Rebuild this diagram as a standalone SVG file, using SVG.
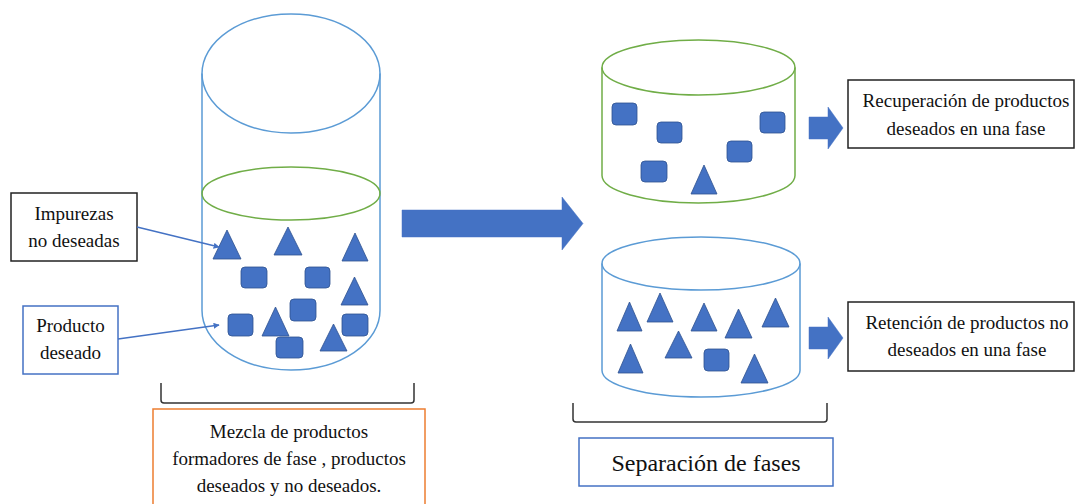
<svg xmlns="http://www.w3.org/2000/svg" width="1076" height="504" viewBox="0 0 1076 504">
<style>
.t{font-family:"Liberation Serif","Times New Roman",serif;font-size:19px;fill:#111;text-anchor:middle}
.sh{fill:#4472C4;stroke:#2F528F;stroke-width:0.8}
.cylB{fill:none;stroke:#5B9BD5;stroke-width:1.5}
.cylG{fill:none;stroke:#70AD47;stroke-width:1.5}
.br{fill:none;stroke:#333;stroke-width:1.5}
.big{fill:#4472C4;stroke:#4472C4;stroke-width:0.5}
.ln{stroke:#4472C4;stroke-width:1.5;fill:none}
</style>
<defs>
<marker id="ah" viewBox="0 0 10 10" refX="9" refY="5" markerWidth="6" markerHeight="6" orient="auto" markerUnits="userSpaceOnUse">
<path d="M0,0 L10,5 L0,10 z" fill="#4472C4"/>
</marker>
</defs>
<rect width="1076" height="504" fill="#fff"/>

<g id="mix-cylinder">
<ellipse class="cylB" cx="291" cy="73.5" rx="89" ry="59.5"/>
<path class="cylB" d="M202,73.5 L202,310.5 A89,59.5 0 0 0 380,310.5 L380,73.5"/>
<ellipse class="cylG" cx="291" cy="193.5" rx="89" ry="26.5"/>
<polygon class="sh" points="213,259 241,259 227,230"/>
<polygon class="sh" points="274,255 302,255 288,227"/>
<polygon class="sh" points="342,261 368,261 355,233"/>
<polygon class="sh" points="341,305 368,305 354.5,277"/>
<polygon class="sh" points="262,336 289,336 275.5,307"/>
<polygon class="sh" points="320,351 347,351 333.5,324"/>
<rect class="sh" x="241" y="267" width="26" height="21" rx="4"/>
<rect class="sh" x="305" y="267" width="25" height="21" rx="4"/>
<rect class="sh" x="290" y="299" width="26" height="22" rx="4"/>
<rect class="sh" x="228" y="314" width="25" height="22" rx="4"/>
<rect class="sh" x="342" y="314" width="26" height="22" rx="4"/>
<rect class="sh" x="276" y="337" width="27" height="21" rx="4"/>
</g>

<g id="impurezas">
<rect x="11" y="193" width="126" height="68" fill="#fff" stroke="#222" stroke-width="1.5"/>
<text class="t" x="74" y="220">Impurezas</text>
<text class="t" x="74" y="247">no deseadas</text>
</g>

<g id="producto">
<rect x="23" y="306" width="95" height="68" fill="#fff" stroke="#4472C4" stroke-width="1.5"/>
<text class="t" x="70.5" y="332">Producto</text>
<text class="t" x="70.5" y="359">deseado</text>
</g>

<g id="bracket-left">
<path class="br" d="M161,383 L161,400 Q161,403 164,403 L411,403 Q414,403 414,400 L414,383"/>
</g>

<g id="mezcla">
<rect x="153" y="409" width="272" height="100" fill="#fff" stroke="#ED7D31" stroke-width="1.5"/>
<text class="t" x="289" y="438">Mezcla de productos</text>
<text class="t" x="289" y="465">formadores de fase , productos</text>
<text class="t" x="289" y="492">deseados y no deseados.</text>
</g>

<g id="upper-phase">
<ellipse class="cylG" cx="698.5" cy="67.5" rx="96.5" ry="27.5"/>
<path class="cylG" d="M602,67.5 L602,175.5 A96.5,27.5 0 0 0 795,175.5 L795,67.5"/>
<rect class="sh" x="612" y="103" width="25" height="22" rx="4"/>
<rect class="sh" x="657" y="122" width="25" height="21" rx="4"/>
<rect class="sh" x="641" y="161" width="26" height="21" rx="4"/>
<rect class="sh" x="727" y="141" width="25" height="21" rx="4"/>
<rect class="sh" x="760" y="112" width="25" height="21" rx="4"/>
<polygon class="sh" points="691,194 717,194 704,165"/>
</g>

<g id="lower-phase">
<ellipse class="cylB" cx="701" cy="263.5" rx="99" ry="26.5"/>
<path class="cylB" d="M602,263.5 L602,370.5 A99,26.5 0 0 0 800,370.5 L800,263.5"/>
<polygon class="sh" points="617,331 642,331 629.5,302"/>
<polygon class="sh" points="647,322 673,322 660,293"/>
<polygon class="sh" points="691,331 717,331 704,303"/>
<polygon class="sh" points="725,338 752,338 738.5,309"/>
<polygon class="sh" points="762,327 789,327 775.5,298"/>
<polygon class="sh" points="618,373 643,373 630.5,344"/>
<polygon class="sh" points="665,358 692,358 678.5,331"/>
<polygon class="sh" points="741,383 768,383 754.5,354"/>
<rect class="sh" x="704" y="349" width="25" height="22" rx="4"/>
</g>

<g id="recuperacion">
<rect x="848" y="80" width="226" height="68" fill="#fff" stroke="#222" stroke-width="1.5"/>
<text class="t" x="966" y="107">Recuperación de productos</text>
<text class="t" x="966" y="135">deseados en una fase</text>
</g>

<g id="retencion">
<rect x="848" y="302" width="226" height="69" fill="#fff" stroke="#222" stroke-width="1.5"/>
<text class="t" x="967" y="329">Retención de productos no</text>
<text class="t" x="967" y="356">deseados en una fase</text>
</g>

<g id="bracket-right">
<path class="br" d="M573,403 L573,419 Q573,422 576,422 L824,422 Q827,422 827,419 L827,403"/>
</g>

<g id="separacion">
<rect x="579" y="438" width="254" height="48" fill="#fff" stroke="#4472C4" stroke-width="1.5"/>
<text class="t" x="706" y="471" style="font-size:24px">Separación de fases</text>
</g>

<g id="connectors">
<line class="ln" x1="137" y1="227" x2="219" y2="247" marker-end="url(#ah)"/>
<line class="ln" x1="118" y1="339" x2="219" y2="325" marker-end="url(#ah)"/>
<polygon class="big" points="402,210 562,210 562,197 583,223.5 562,250 562,237 402,237"/>
<polygon class="big" points="809,117 828,117 828,107 843,128 828,149 828,139 809,139"/>
<polygon class="big" points="809,327 828,327 828,317 843,338 828,359 828,349 809,349"/>
</g>
</svg>
